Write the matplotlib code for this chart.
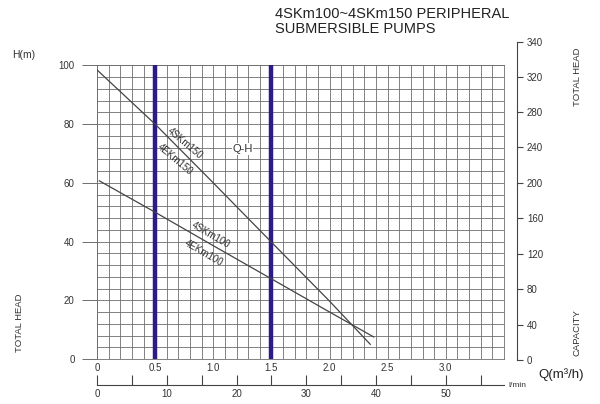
import matplotlib.pyplot as plt
from matplotlib.ticker import MultipleLocator

plt.rcParams['font.family'] = ['Liberation Sans', 'DejaVu Sans']

# Q-H curves, flow in m3/h, head in m
q_150 = [0.0, 0.5, 1.0, 1.5, 2.0, 2.35]
h_150 = [98.5, 80.0, 60.0, 39.8, 19.7, 5.0]
q_100 = [0.02, 0.5, 1.0, 1.5, 2.0, 2.38]
h_100 = [60.7, 50.0, 38.6, 27.3, 16.0, 7.5]

# purple marker lines
q_marks = [0.5, 1.5]

x_ticks = [0, 0.5, 1.0, 1.5, 2.0, 2.5, 3.0]
x_labels = ['0', '0.5', '1.0', '1.5', '2.0', '2.5', '3.0']
y_ticks = [0, 20, 40, 60, 80, 100]
right_ticks = [0, 40, 80, 120, 160, 200, 240, 280, 320, 340]
lmin_ticks = [0, 10, 20, 30, 40, 50]

grid_c = '#6e6e6e'
txt_c = '#333333'

fig = plt.figure(figsize=(6, 4.04), dpi=100)
fig.patch.set_facecolor('white')

ax = fig.add_axes([0.1617, 0.1114, 0.6783, 0.7265])
ax.set_xlim(0, 3.5)
ax.set_ylim(0, 100)
ax.xaxis.set_minor_locator(MultipleLocator(0.1))
ax.yaxis.set_minor_locator(MultipleLocator(4))
ax.set_xticks(x_ticks)
ax.set_xticklabels(x_labels)
ax.set_yticks(y_ticks)
ax.grid(True, which='both', color=grid_c, lw=0.6)
ax.set_axisbelow(True)
for s in ax.spines.values():
    s.set_color(grid_c)
    s.set_linewidth(0.6)
ax.tick_params(axis='x', which='both', length=0, pad=3, labelsize=7, labelcolor=txt_c)
ax.tick_params(axis='y', which='major', length=11, width=0.7, color=grid_c,
               pad=5, labelsize=7, labelcolor=txt_c)
ax.tick_params(axis='y', which='minor', length=0)

for q in q_marks:
    ax.axvline(q, color='#2e1a87', lw=3.2, zorder=3)

ax.plot(q_150, h_150, color='#444444', lw=0.9, zorder=4)
ax.plot(q_100, h_100, color='#444444', lw=0.9, zorder=4)

ax.text(0.76, 73.6, '4SKm150', rotation=-40, ha='center', va='center', fontsize=7,
        color=txt_c, zorder=5)
ax.text(0.67, 68.0, '4EKm150', rotation=-40, ha='center', va='center', fontsize=7,
        color=txt_c, zorder=5)
ax.text(0.98, 42.2, '4SKm100', rotation=-30, ha='center', va='center', fontsize=7,
        color=txt_c, zorder=5)
ax.text(0.92, 36.2, '4EKm100', rotation=-30, ha='center', va='center', fontsize=7,
        color=txt_c, zorder=5)
ax.text(1.25, 71.5, 'Q-H', ha='center', va='center', fontsize=8, color=txt_c,
        bbox=dict(facecolor='white', edgecolor='none', pad=0.5), zorder=5)

# right scale
axr = fig.add_axes([0.86, 0.1089, 0.001, 0.787])
axr.set_ylim(0, 359)
axr.set_yticks(right_ticks[:-1] + [359])
axr.set_yticklabels([str(v) for v in right_ticks])
axr.set_xticks([])
for k in ['top', 'bottom', 'left']:
    axr.spines[k].set_visible(False)
axr.spines['right'].set_color('#444444')
axr.spines['right'].set_linewidth(0.8)
axr.yaxis.tick_right()
axr.tick_params(axis='y', length=4.5, width=0.8, color='#444444', pad=3,
                labelsize=7, labelcolor=txt_c)

# l/min scale
axl = fig.add_axes([0.1617, 0.047, 0.6783, 0.001])
axl.set_xlim(0, 3.5 * 1000 / 60)
axl.set_xticks(lmin_ticks)
axl.xaxis.set_minor_locator(MultipleLocator(5))
axl.set_yticks([])
for k in ['top', 'left', 'right']:
    axl.spines[k].set_visible(False)
axl.spines['bottom'].set_color('#444444')
axl.spines['bottom'].set_linewidth(0.8)
axl.tick_params(axis='x', which='both', direction='in', length=7, width=0.8,
                color='#444444', pad=3, labelsize=7, labelcolor=txt_c)

fig.text(0.458, 0.965, '4SKm100~4SKm150 PERIPHERAL', fontsize=10.5, va='center', color='#222222')
fig.text(0.458, 0.928, 'SUBMERSIBLE PUMPS', fontsize=10.5, va='center', color='#222222')
fig.text(0.04, 0.864, 'H(m)', fontsize=7.5, ha='center', va='center', color=txt_c)
fig.text(0.033, 0.2, 'TOTAL HEAD', rotation=90, fontsize=6.8, ha='center', va='center', color=txt_c)
fig.text(0.962, 0.81, 'TOTAL HEAD', rotation=90, fontsize=6.8, ha='center', va='center', color=txt_c)
fig.text(0.962, 0.178, 'CAPACITY', rotation=90, fontsize=6.8, ha='center', va='center', color=txt_c)
fig.text(0.897, 0.074, 'Q(m\u00b3/h)', fontsize=9.5, ha='left', va='center', color='#222222')
fig.text(0.848, 0.045, 'l/min', fontsize=6, ha='left', va='center', color=txt_c)

fig.savefig('out.png', dpi=100)
